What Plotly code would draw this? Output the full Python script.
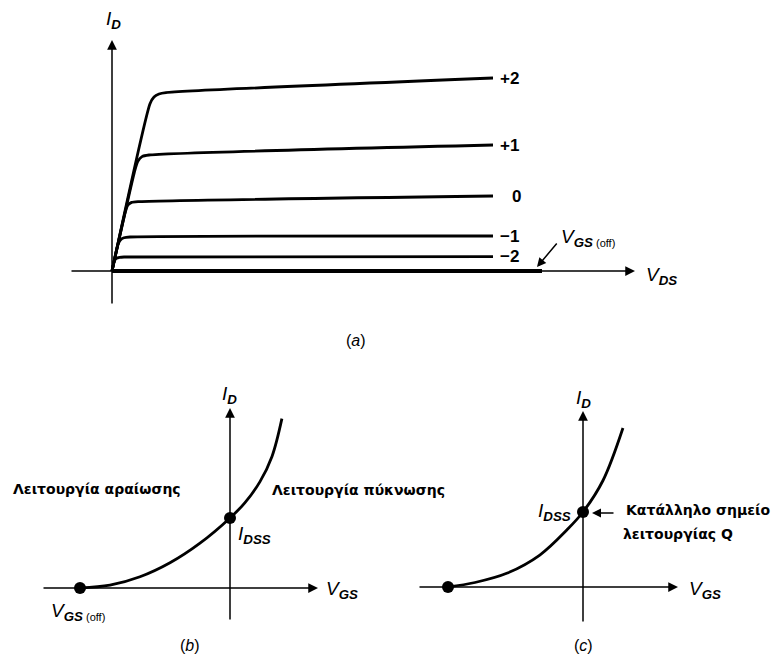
import plotly.graph_objects as go

W, H = 776, 660

# ---------------- data ----------------
# (a) drain characteristics: V_DS (arb. units) vs I_D (arb. units) for each V_GS
vgs_labels = ["+2", "+1", "0", "\u22121", "\u22122"]
vds_p2 = [0, 1.9, 2.1, 2.35, 2.7, 19.05]
id_p2 = [0, 8.36, 8.7, 8.85, 8.92, 9.65]
vds_p1 = [0, 1.15, 1.3, 1.5, 1.85, 19.05]
id_p1 = [0, 5.06, 5.5, 5.72, 5.8, 6.3]
vds_0 = [0, 0.68, 0.8, 0.98, 1.3, 19.05]
id_0 = [0, 3.0, 3.3, 3.43, 3.47, 3.75]
vds_m1 = [0, 0.3, 0.42, 0.6, 0.9, 19.05]
id_m1 = [0, 1.32, 1.55, 1.66, 1.7, 1.75]
vds_m2 = [0, 0.12, 0.22, 0.38, 0.6, 19.05]
id_m2 = [0, 0.5, 0.63, 0.68, 0.7, 0.72]
vds_off = [0, 21.5]
id_off = [0, 0]

# (b) transconductance curve
vgs_b = [-5, -4, -3, -2, -1, 0, 0.5, 1.0, 1.4, 1.73]
id_b = [0, 0.2, 0.8, 1.8, 3.2, 5.0, 6.1, 7.6, 9.4, 12.1]
# (c) transconductance curve
vgs_c = [-5, -4, -2.8, -1.6, -0.6, 0, 0.74, 1.48]
id_c = [0, 0.3, 0.93, 2.13, 3.8, 5.0, 7.1, 10.6]
# marked points
vgs_off = -5
idss = 5.0

# ---------------- panel geometry (pixel origin & scale) ----------------
panels = {
    "a": ("x", "y", 0, 776, 0, 345, 112, 271, 20, 20),
    "b": ("x2", "y2", 0, 388, 345, 660, 230, 588, 30, 14),
    "c": ("x3", "y3", 388, 776, 345, 660, 583, 587, 27, 15),
}

fig = go.Figure()
layout = dict(width=W, height=H, margin=dict(l=0, r=0, t=0, b=0),
              paper_bgcolor="white", plot_bgcolor="white", showlegend=False)
for name, (xa, ya, x0, x1, y0, y1, ox, oy, sx, sy) in panels.items():
    xk = "xaxis" if xa == "x" else "xaxis" + xa[1:]
    yk = "yaxis" if ya == "y" else "yaxis" + ya[1:]
    layout[xk] = dict(domain=[x0 / W, x1 / W], range=[(x0 - ox) / sx, (x1 - ox) / sx],
                      visible=False, fixedrange=True, anchor=ya)
    layout[yk] = dict(domain=[1 - y1 / H, 1 - y0 / H], range=[(oy - y1) / sy, (oy - y0) / sy],
                      visible=False, fixedrange=True, anchor=xa)
fig.update_layout(**layout)

def P(name, px, py):
    _, _, _, _, _, _, ox, oy, sx, sy = panels[name]
    return (px - ox) / sx, (oy - py) / sy

FONT = "Liberation Sans, Arial, sans-serif"
GREEK = "DejaVu Sans, Liberation Sans, sans-serif"
ann = []

def arrow(name, tip, tail, width=1.5, size=1.3):
    xa, ya = panels[name][0], panels[name][1]
    ann.append(dict(x=tip[0], y=tip[1], ax=tail[0], ay=tail[1], xref=xa, yref=ya,
                    axref=xa, ayref=ya, text="", showarrow=True, arrowhead=2,
                    arrowsize=size, arrowwidth=width, arrowcolor="black", standoff=0))

def label(name, x, y, text, size=15, xanchor="center", yanchor="middle", bold=False, family=FONT):
    xa, ya = panels[name][0], panels[name][1]
    ann.append(dict(x=x, y=y, xref=xa, yref=ya, text=text, showarrow=False,
                    xanchor=xanchor, yanchor=yanchor,
                    font=dict(family=family, size=size, color="black",
                              weight="bold" if bold else "normal")))

ID_TXT = "<i>I</i><sub><b><i>D</i></b></sub>"
VGS_TXT = "<i>V</i><sub><b><i>GS</i></b></sub>"
VDS_TXT = "<i>V</i><sub><b><i>DS</i></b></sub>"
VOFF_TXT = "<i>V</i><sub><b><i>GS</i></b><span style='font-size:11px'> (off)</span></sub>"
IDSS_TXT = "<i>I</i><sub><b><i>DSS</i></b></sub>"
MATH = 19

# ---------------- panel (a) ----------------
curves_a = [(vds_p2, id_p2), (vds_p1, id_p1), (vds_0, id_0), (vds_m1, id_m1), (vds_m2, id_m2)]
for (vx, vy) in curves_a:
    fig.add_trace(go.Scatter(x=vx, y=vy, mode="lines", xaxis="x", yaxis="y",
                             line=dict(color="black", width=2.8, shape="spline", smoothing=0.6),
                             hoverinfo="skip"))
fig.add_trace(go.Scatter(x=vds_off, y=id_off, mode="lines", xaxis="x", yaxis="y",
                         line=dict(color="black", width=4), hoverinfo="skip"))
arrow("a", P("a", 635, 271), P("a", 70, 271))
arrow("a", P("a", 112, 40), P("a", 112, 305))
for lab, (vx, vy) in zip(vgs_labels, curves_a):
    dx = 0.85 if lab == "0" else 0.25
    label("a", vx[-1] + dx, vy[-1], lab, size=17, xanchor="left", bold=True)
label("a", *P("a", 113, 20), ID_TXT, size=MATH)
label("a", *P("a", 644, 276), VDS_TXT, size=MATH, xanchor="left")
label("a", *P("a", 559, 238), VOFF_TXT, size=MATH, xanchor="left")
arrow("a", P("a", 537, 267), P("a", 558, 242), size=1.2)
label("a", *P("a", 356, 340), "(<i>a</i>)", size=16)

# ---------------- panel (b) ----------------
fig.add_trace(go.Scatter(x=vgs_b, y=id_b, mode="lines", xaxis="x2", yaxis="y2",
                         line=dict(color="black", width=2.8, shape="spline"), hoverinfo="skip"))
fig.add_trace(go.Scatter(x=[vgs_off, 0], y=[0, idss], mode="markers", xaxis="x2", yaxis="y2",
                         marker=dict(color="black", size=12), hoverinfo="skip"))
arrow("b", P("b", 318, 588), P("b", 42, 588))
arrow("b", P("b", 230, 408), P("b", 230, 621))
label("b", *P("b", 229, 395), ID_TXT, size=MATH)
label("b", *P("b", 324, 590), VGS_TXT, size=MATH, xanchor="left")
label("b", *P("b", 49, 612), VOFF_TXT, size=MATH, xanchor="left")
label("b", *P("b", 236, 535), IDSS_TXT, size=MATH, xanchor="left")
label("b", *P("b", 97, 489), "Λειτουργία αραίωσης", size=14, bold=True, family=GREEK)
label("b", *P("b", 270, 490), "Λειτουργία πύκνωσης", size=14, xanchor="left", bold=True, family=GREEK)
label("b", *P("b", 190, 645), "(<i>b</i>)", size=16)

# ---------------- panel (c) ----------------
fig.add_trace(go.Scatter(x=vgs_c, y=id_c, mode="lines", xaxis="x3", yaxis="y3",
                         line=dict(color="black", width=2.8, shape="spline"), hoverinfo="skip"))
fig.add_trace(go.Scatter(x=[vgs_off, 0], y=[0, idss], mode="markers", xaxis="x3", yaxis="y3",
                         marker=dict(color="black", size=12), hoverinfo="skip"))
arrow("c", P("c", 678, 587), P("c", 418, 587))
arrow("c", P("c", 583, 411), P("c", 583, 623))
label("c", *P("c", 583, 399), ID_TXT, size=MATH)
label("c", *P("c", 687, 590), VGS_TXT, size=MATH, xanchor="left")
label("c", *P("c", 573, 512), IDSS_TXT, size=MATH, xanchor="right")
arrow("c", P("c", 592, 513), P("c", 615, 513), size=1.2)
label("c", *P("c", 624, 510), "Κατάλληλο σημείο", size=14, xanchor="left", bold=True, family=GREEK)
label("c", *P("c", 621, 534), "λειτουργίας Q", size=14, xanchor="left", bold=True, family=GREEK)
label("c", *P("c", 583, 645), "(<i>c</i>)", size=16)

fig.update_layout(annotations=ann)
fig.write_html("out.html", post_script="document.body.style.margin='0px';",
               config={"displayModeBar": False})
